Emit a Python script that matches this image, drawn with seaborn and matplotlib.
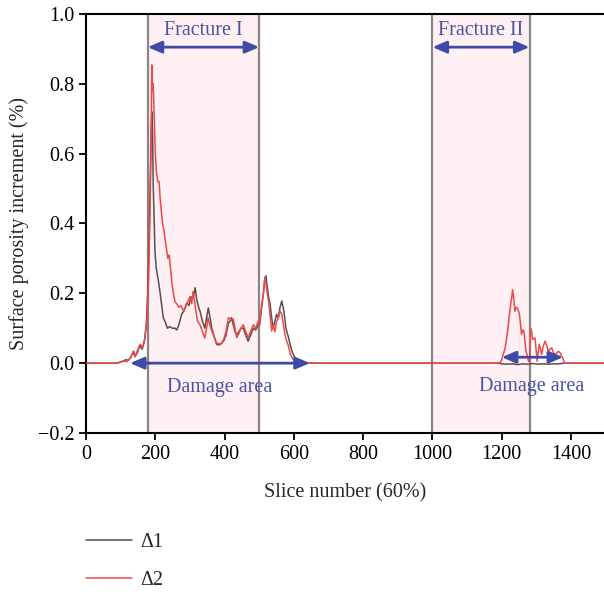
import matplotlib
matplotlib.use("Agg")
import matplotlib.pyplot as plt
import seaborn as sns
import pandas as pd

# ---------------- data ----------------
d1_x = [0, 90, 100, 108, 115, 122, 128, 133, 137, 142,
        148, 155, 162, 168, 174, 178, 182, 185, 188, 190,
        192, 194, 197, 199, 203, 209, 214, 218, 223, 228,
        235, 242, 249, 257, 262, 268, 276, 283, 291, 297,
        303, 309, 315, 320, 325, 329, 336, 343, 348, 353,
        358, 363, 370, 377, 385, 392, 398, 404, 411, 416,
        420, 425, 430, 435, 441, 447, 454, 461, 468, 475,
        483, 490, 497, 502, 507, 512, 516, 519, 523, 527,
        531, 536, 540, 545, 550, 555, 560, 565, 571, 577,
        584, 589, 596, 603, 610, 620, 700, 1000, 1190, 1200,
        1215, 1230, 1245, 1260, 1275, 1290, 1305, 1320, 1335, 1350,
        1365, 1380, 1495]
d1_y = [0, 0, 0.004, 0.006, 0.01, 0.008, 0.015, 0.025, 0.034, 0.02,
        0.03, 0.05, 0.04, 0.06, 0.11, 0.2, 0.35, 0.5, 0.65, 0.72,
        0.66, 0.51, 0.40, 0.32, 0.27, 0.235, 0.20, 0.17, 0.13, 0.12,
        0.10, 0.105, 0.10, 0.10, 0.095, 0.11, 0.14, 0.15, 0.173, 0.165,
        0.19, 0.185, 0.216, 0.18, 0.16, 0.149, 0.12, 0.10, 0.13, 0.158,
        0.13, 0.10, 0.075, 0.054, 0.052, 0.058, 0.065, 0.08, 0.115, 0.12,
        0.13, 0.11, 0.09, 0.08, 0.09, 0.10, 0.10, 0.08, 0.063, 0.08,
        0.10, 0.095, 0.11, 0.12, 0.16, 0.20, 0.24, 0.25, 0.22, 0.19,
        0.17, 0.13, 0.10, 0.12, 0.14, 0.13, 0.16, 0.178, 0.15, 0.10,
        0.075, 0.054, 0.03, 0.015, 0.005, 0, 0, 0, 0, -0.002,
        -0.003, -0.002, -0.004, -0.002, -0.003, -0.001, -0.003, -0.002, -0.003, -0.002,
        -0.002, 0, 0]

d2_x = [0, 90, 100, 110, 118, 125, 131, 136, 142, 148,
        156, 163, 170, 176, 181, 185, 188, 190, 192, 194,
        197, 200, 203, 207, 211, 214, 218, 221, 225, 229,
        232, 236, 240, 244, 248, 252, 257, 262, 268, 274,
        281, 287, 293, 300, 305, 309, 313, 317, 322, 329,
        336, 343, 348, 352, 357, 363, 370, 377, 385, 392,
        398, 404, 411, 418, 425, 430, 435, 441, 447, 454,
        461, 468, 475, 483, 490, 497, 502, 507, 512, 516,
        519, 523, 527, 531, 536, 540, 545, 550, 555, 560,
        565, 571, 577, 584, 590, 598, 605, 612, 620, 700,
        1000, 1190, 1196, 1200, 1204, 1209, 1214, 1218, 1222, 1226,
        1229, 1231, 1234, 1238, 1241, 1245, 1248, 1251, 1254, 1257,
        1260, 1264, 1267, 1270, 1274, 1277, 1280, 1283, 1286, 1289,
        1292, 1296, 1299, 1302, 1305, 1308, 1312, 1315, 1320, 1325,
        1330, 1334, 1339, 1344, 1349, 1354, 1358, 1363, 1368, 1373,
        1377, 1381, 1495]
d2_y = [0, 0, 0.003, 0.006, 0.004, 0.012, 0.020, 0.030, 0.018, 0.035,
        0.054, 0.045, 0.07, 0.13, 0.25, 0.45, 0.66, 0.854, 0.78, 0.80,
        0.70, 0.60, 0.55, 0.52, 0.52, 0.47, 0.43, 0.40, 0.38, 0.35,
        0.33, 0.30, 0.31, 0.27, 0.23, 0.20, 0.175, 0.17, 0.16, 0.165,
        0.15, 0.16, 0.175, 0.19, 0.17, 0.205, 0.18, 0.15, 0.12, 0.11,
        0.09, 0.072, 0.10, 0.13, 0.11, 0.092, 0.075, 0.058, 0.055, 0.058,
        0.07, 0.09, 0.13, 0.125, 0.126, 0.10, 0.073, 0.085, 0.10, 0.11,
        0.09, 0.073, 0.09, 0.11, 0.10, 0.12, 0.11, 0.17, 0.20, 0.245,
        0.23, 0.20, 0.178, 0.14, 0.092, 0.11, 0.09, 0.12, 0.13, 0.149,
        0.14, 0.10, 0.07, 0.05, 0.025, 0.01, 0.003, 0, 0, 0,
        0, 0, 0.002, 0.01, 0.025, 0.04, 0.072, 0.10, 0.14, 0.17,
        0.19, 0.21, 0.19, 0.149, 0.16, 0.158, 0.15, 0.14, 0.11, 0.083,
        0.095, 0.092, 0.06, 0.034, 0.02, 0.006, 0.004, 0.10, 0.09, 0.068,
        0.07, 0.072, 0.04, 0.006, 0.03, 0.054, 0.04, 0.025, 0.05, 0.063,
        0.05, 0.034, 0.04, 0.044, 0.03, 0.025, 0.028, 0.034, 0.03, 0.02,
        0.012, 0, 0]

series_labels = ["Δ1", "Δ2"]
fracture_spans = [(178, 500), (1000, 1280)]
fracture_labels = ["Fracture I", "Fracture II"]
damage_spans = [(127, 646, 0.0), (1200, 1377, 0.017)]
damage_text_pos = [(387, -0.07), (1286, -0.068)]
x_ticks = [0, 200, 400, 600, 800, 1000, 1200, 1400]
y_ticks = [-0.2, 0.0, 0.2, 0.4, 0.6, 0.8, 1.0]

# ---------------- plot ----------------
sns.set_theme(style="white")
plt.rcParams["font.family"] = ["Liberation Serif", "DejaVu Serif"]
plt.rcParams["axes.unicode_minus"] = True

FS = 14.5

df = pd.concat([
    pd.DataFrame({"x": d1_x, "y": d1_y, "s": series_labels[0]}),
    pd.DataFrame({"x": d2_x, "y": d2_y, "s": series_labels[1]}),
])

fig = plt.figure(figsize=(6.04, 5.95), dpi=100)
ax = fig.add_axes([0.1424, 0.2723, 0.8576, 0.7042])

blue = "#3f4aa8"
text_blue = "#4a52a8"
for (a, b) in fracture_spans:
    ax.axvspan(a, b, color="#fff0f3", zorder=0, lw=0)
    ax.axvline(a, color="#8c8484", lw=1.6, zorder=1)
    ax.axvline(b, color="#8c8484", lw=1.6, zorder=1)

sns.lineplot(data=df, x="x", y="y", hue="s", palette=["#555050", "#f04848"],
             estimator=None, sort=False, lw=1.1, ax=ax, zorder=3)

for (a, b), lab in zip(fracture_spans, fracture_labels):
    ax.annotate("", xy=(a, 0.905), xytext=(b, 0.905),
                arrowprops=dict(arrowstyle="<|-|>,head_length=0.7,head_width=0.3",
                                color=blue, lw=2, shrinkA=0, shrinkB=0), zorder=5)
    ax.text((a + b) / 2, 0.952, lab, ha="center", va="center", color=text_blue,
            fontsize=FS)

for (a, b, yy), (tx, ty) in zip(damage_spans, damage_text_pos):
    ax.annotate("", xy=(a, yy), xytext=(b, yy),
                arrowprops=dict(arrowstyle="<|-|>,head_length=0.7,head_width=0.3",
                                color=blue, lw=2, shrinkA=0, shrinkB=0), zorder=5)
    ax.text(tx, ty, "Damage area", ha="center", va="center", color=text_blue,
            fontsize=FS)

ax.set_xlim(0, 1495)
ax.set_ylim(-0.2, 1.0)
ax.set_xticks(x_ticks)
ax.set_yticks(y_ticks)
ax.set_yticklabels([f"{v:.1f}".replace("-", "\u2212") for v in y_ticks])
ax.tick_params(axis="both", direction="out", length=5, width=1.3, labelsize=FS,
               colors="black", bottom=True, left=True)
for side in ["left", "bottom", "top"]:
    ax.spines[side].set_color("black")
    ax.spines[side].set_linewidth(1.5)
ax.spines["right"].set_visible(False)
ax.set_xlabel("Slice number (60%)", fontsize=FS, labelpad=14)
ax.set_ylabel("Surface porosity increment (%)", fontsize=FS, labelpad=6)

handles, labels = ax.get_legend_handles_labels()
ax.get_legend().remove()
fig.legend(handles, labels, loc="upper left", bbox_to_anchor=(0.142, 0.104),
           frameon=False, fontsize=FS, handlelength=2.3, handletextpad=0.4,
           labelspacing=0.95, borderpad=0, borderaxespad=0)

fig.savefig("out.png", dpi=100)
